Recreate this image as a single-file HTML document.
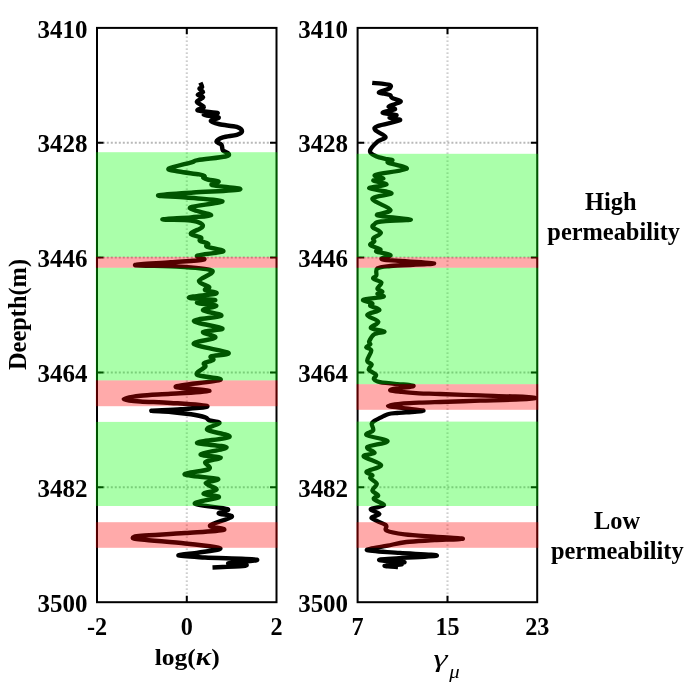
<!DOCTYPE html>
<html lang="en"><head><meta charset="utf-8"><title>Permeability log</title>
<style>
html,body{margin:0;padding:0;background:#fff;}
body{width:691px;height:693px;overflow:hidden;}
svg{display:block;}
text{font-family:"Liberation Serif","Times New Roman",serif;fill:#000;}
.b{font-weight:bold;font-size:24.4px;}
</style></head><body>
<svg width="691" height="693" viewBox="0 0 691 693">
<rect width="691" height="693" fill="#fff"/>
<path d="M186.8 28.40V601.15" stroke="#000" stroke-opacity="0.26" stroke-width="2.1" stroke-dasharray="1.3 2.7" fill="none"/>
<path d="M98.8 142.7H275.5" stroke="#000" stroke-opacity="0.28" stroke-width="2" stroke-dasharray="2 2" fill="none"/>
<path d="M98.8 257.6H275.5" stroke="#000" stroke-opacity="0.28" stroke-width="2" stroke-dasharray="2 2" fill="none"/>
<path d="M98.8 372.4H275.5" stroke="#000" stroke-opacity="0.28" stroke-width="2" stroke-dasharray="2 2" fill="none"/>
<path d="M98.8 487.3H275.5" stroke="#000" stroke-opacity="0.28" stroke-width="2" stroke-dasharray="2 2" fill="none"/>
<path d="M200.4 82.7C200.7 83.4 202.2 86.0 202.1 87.0C201.9 88.0 199.3 87.8 199.5 88.7C199.7 89.6 203.3 91.2 203.0 92.2C202.7 93.2 197.8 93.9 197.8 94.8C197.8 95.7 203.2 96.2 203.0 97.4C202.8 98.6 196.8 100.2 196.9 101.8C197.0 103.4 203.7 105.5 203.8 107.0C204.0 108.5 195.5 109.5 197.8 110.5C200.1 111.5 216.7 112.3 217.7 113.0C218.7 113.7 203.7 114.1 203.8 114.8C204.0 115.5 217.4 116.4 218.6 117.4C219.8 118.4 210.7 119.8 210.8 120.9C211.0 122.1 215.2 123.3 219.5 124.3C223.8 125.3 233.1 125.7 236.8 126.9C240.6 128.1 242.0 130.0 242.0 131.3C242.0 132.6 240.0 133.8 236.8 134.8C233.6 135.8 226.3 136.3 222.9 137.4C219.5 138.5 216.7 140.3 216.5 141.5C216.3 142.7 220.4 143.3 221.5 144.8C222.6 146.3 221.8 149.0 222.9 150.4C224.0 151.8 227.9 152.3 228.3 153.3C228.7 154.3 230.6 155.4 225.5 156.5C220.4 157.6 203.5 159.1 197.8 160.1C192.1 161.1 196.3 160.9 191.5 162.3C186.7 163.7 170.9 167.1 168.8 168.6C166.7 170.1 173.8 170.5 178.9 171.5C184.0 172.5 194.9 173.6 199.2 174.4C203.5 175.2 203.8 175.5 204.5 176.1C205.2 176.7 202.8 177.2 203.5 177.8C204.2 178.4 206.0 179.1 208.5 179.7C211.0 180.3 217.9 180.7 218.5 181.6C219.1 182.5 208.6 183.9 212.2 185.2C215.8 186.5 243.1 188.1 240.0 189.3C236.9 190.5 207.0 191.5 193.4 192.5C179.8 193.5 159.4 194.6 158.2 195.4C157.0 196.2 175.5 196.5 186.2 197.5C196.9 198.5 221.4 199.6 222.4 201.2C223.4 202.8 196.6 205.4 192.0 206.9C187.4 208.4 191.6 208.9 194.8 210.3C198.0 211.7 211.7 214.1 211.0 215.3C210.3 216.5 198.9 216.7 190.8 217.4C182.7 218.1 162.4 218.9 162.4 219.4C162.4 219.9 184.4 219.7 190.8 220.4C197.2 221.1 199.1 222.2 200.9 223.4C202.8 224.6 203.6 225.8 201.9 227.5C200.2 229.2 191.0 231.9 190.8 233.6C190.6 235.3 199.4 236.4 200.9 237.6C202.4 238.8 198.7 239.7 199.9 240.7C201.1 241.7 206.8 242.7 208.0 243.7C209.2 244.7 204.5 245.4 207.0 246.7C209.5 248.0 224.8 249.9 223.2 251.4C221.6 252.9 200.8 254.1 197.5 255.5C194.2 256.9 208.0 258.5 203.5 259.6C199.0 260.7 181.9 261.4 170.5 262.3C159.1 263.2 133.5 264.4 135.2 265.1C136.9 265.8 168.0 265.8 180.8 266.7C193.6 267.6 209.2 268.4 212.2 270.8C215.2 273.2 199.5 278.2 199.0 280.9C198.5 283.6 208.1 285.5 209.1 287.0C210.1 288.5 203.9 288.9 205.1 290.0C206.3 291.1 218.9 292.1 216.2 293.4C213.5 294.6 189.1 296.4 188.9 297.5C188.7 298.6 213.8 299.2 215.2 300.1C216.5 301.0 196.8 301.9 197.0 302.8C197.2 303.7 215.2 304.4 216.2 305.6C217.2 306.9 202.2 308.6 203.1 310.3C203.9 312.0 222.8 313.9 221.3 315.7C219.8 317.5 193.7 318.9 193.9 321.0C194.1 323.1 220.8 326.7 222.3 328.5C223.8 330.3 204.3 330.4 203.1 331.9C201.9 333.4 216.7 335.6 215.2 337.6C213.7 339.6 191.7 341.6 193.9 344.1C196.1 346.6 225.5 350.8 228.4 352.8C231.3 354.8 213.7 355.1 211.2 356.3C208.7 357.5 214.4 358.7 213.2 359.9C212.0 361.1 205.4 362.2 204.1 363.3C202.8 364.4 206.4 364.8 205.2 366.7C204.0 368.6 194.6 372.6 197.1 374.8C199.6 377.0 223.9 377.9 220.4 379.9C216.9 381.9 177.7 384.8 175.8 386.6C174.0 388.5 210.1 389.8 209.3 391.0C208.5 392.2 182.3 392.9 170.8 393.7C159.3 394.5 148.2 394.8 140.4 395.7C132.6 396.6 123.8 398.1 123.8 399.1C123.8 400.1 132.6 400.9 140.4 401.5C148.2 402.1 159.7 402.1 170.8 402.9C181.9 403.7 205.5 405.1 207.2 406.2C208.9 407.3 190.2 408.6 180.9 409.3C171.6 410.1 153.2 410.3 151.5 410.7C149.8 411.1 164.2 411.3 170.8 411.9C177.4 412.5 185.3 413.4 191.0 414.3C196.7 415.2 202.1 416.4 205.2 417.4C208.2 418.4 206.9 419.5 209.3 420.4C211.7 421.3 219.8 421.4 219.4 423.0C219.1 424.6 205.5 427.4 207.2 429.7C208.9 432.0 231.2 434.6 229.5 436.8C227.8 439.0 197.6 440.9 197.1 442.7C196.6 444.4 225.9 445.4 226.5 447.3C227.1 449.2 201.7 452.6 200.7 454.3C199.7 456.0 219.8 456.2 220.6 457.5C221.4 458.8 207.4 460.1 205.5 462.0C203.6 463.9 212.5 466.9 209.0 469.0C205.5 471.1 183.2 472.9 184.7 474.5C186.1 476.1 214.2 477.5 217.7 478.9C221.2 480.3 205.9 481.3 205.7 483.1C205.5 484.9 216.9 487.8 216.6 489.6C216.2 491.4 203.2 492.6 203.6 493.9C204.0 495.2 220.2 495.6 218.8 497.2C217.4 498.8 193.5 501.7 194.9 503.7C196.3 505.7 223.4 507.5 227.4 509.1C231.4 510.7 218.1 512.1 218.8 513.4C219.5 514.7 233.2 514.7 231.8 516.7C230.4 518.7 211.5 523.2 210.1 525.4C208.7 527.6 227.8 528.6 223.6 529.9C219.4 531.2 198.8 532.1 185.1 533.1C171.4 534.1 150.4 534.9 141.7 535.7C133.0 536.5 132.8 537.1 132.8 537.8C132.8 538.4 133.0 538.7 141.7 539.6C150.4 540.5 173.0 542.2 185.1 543.4C197.2 544.6 208.8 545.9 214.5 546.9C220.2 547.9 221.8 548.4 219.0 549.4C216.2 550.4 204.8 551.7 198.0 552.7C191.2 553.7 177.3 554.7 178.5 555.5C179.7 556.3 191.9 556.8 205.0 557.5C218.1 558.2 252.9 558.7 256.8 559.7C260.7 560.7 230.5 562.7 228.4 563.4C226.3 564.1 242.1 563.6 244.5 564.1C246.9 564.6 248.3 565.6 243.0 566.1C237.7 566.6 217.6 567.2 212.5 567.4" fill="none" stroke="#000" stroke-width="4.5" stroke-linejoin="round" stroke-linecap="butt"/>
<rect x="97.0" y="27.9" width="179.5" height="574.3" fill="none" stroke="#000" stroke-width="2"/>
<path d="M97.0 142.7h6.5M276.5 142.7h-6.5M97.0 257.6h6.5M276.5 257.6h-6.5M97.0 372.4h6.5M276.5 372.4h-6.5M97.0 487.3h6.5M276.5 487.3h-6.5M186.8 27.85v6.5M186.8 602.15v-6.5" stroke="#000" stroke-width="2" fill="none"/>
<rect x="95.8" y="152.2" width="181.9" height="104.7" fill="#00ff00" fill-opacity="0.335"/>
<rect x="95.8" y="256.9" width="181.9" height="10.9" fill="#ff0000" fill-opacity="0.335"/>
<rect x="95.8" y="267.8" width="181.9" height="112.6" fill="#00ff00" fill-opacity="0.335"/>
<rect x="95.8" y="380.4" width="181.9" height="25.8" fill="#ff0000" fill-opacity="0.335"/>
<rect x="95.8" y="421.9" width="181.9" height="84.1" fill="#00ff00" fill-opacity="0.335"/>
<rect x="95.8" y="522.2" width="181.9" height="25.6" fill="#ff0000" fill-opacity="0.335"/>
<text class="b" style="font-size:25.0px" transform="translate(87.5 37.5) scale(1 1.03)" text-anchor="end">3410</text>
<text class="b" style="font-size:25.0px" transform="translate(87.5 152.4) scale(1 1.03)" text-anchor="end">3428</text>
<text class="b" style="font-size:25.0px" transform="translate(87.5 267.3) scale(1 1.03)" text-anchor="end">3446</text>
<text class="b" style="font-size:25.0px" transform="translate(87.5 382.1) scale(1 1.03)" text-anchor="end">3464</text>
<text class="b" style="font-size:25.0px" transform="translate(87.5 497.0) scale(1 1.03)" text-anchor="end">3482</text>
<text class="b" style="font-size:25.0px" transform="translate(87.5 611.9) scale(1 1.03)" text-anchor="end">3500</text>
<text class="b" style="font-size:24.2px" transform="translate(97.0 634.8) scale(1 1.05)" text-anchor="middle">-2</text>
<text class="b" style="font-size:24.2px" transform="translate(186.8 634.8) scale(1 1.05)" text-anchor="middle">0</text>
<text class="b" style="font-size:24.2px" transform="translate(276.5 634.8) scale(1 1.05)" text-anchor="middle">2</text>
<path d="M447.5 28.40V601.15" stroke="#000" stroke-opacity="0.26" stroke-width="2.1" stroke-dasharray="1.3 2.7" fill="none"/>
<path d="M359.4 142.7H536.3" stroke="#000" stroke-opacity="0.28" stroke-width="2" stroke-dasharray="2 2" fill="none"/>
<path d="M359.4 257.6H536.3" stroke="#000" stroke-opacity="0.28" stroke-width="2" stroke-dasharray="2 2" fill="none"/>
<path d="M359.4 372.4H536.3" stroke="#000" stroke-opacity="0.28" stroke-width="2" stroke-dasharray="2 2" fill="none"/>
<path d="M359.4 487.3H536.3" stroke="#000" stroke-opacity="0.28" stroke-width="2" stroke-dasharray="2 2" fill="none"/>
<path d="M372.2 82.8C373.8 83.0 378.7 83.3 381.7 83.7C384.7 84.1 388.8 84.5 390.2 85.2C391.6 85.9 390.7 87.2 390.0 88.0C389.3 88.8 388.0 89.1 386.1 89.8C384.2 90.5 379.2 91.8 378.9 92.4C378.6 93.1 382.4 93.2 384.3 93.7C386.2 94.2 388.9 94.5 390.2 95.2C391.5 95.9 390.2 96.8 392.0 97.8C393.8 98.8 400.2 100.2 400.7 101.2C401.2 102.2 396.8 103.2 394.8 104.1C392.8 105.0 388.5 105.8 388.5 106.7C388.5 107.6 396.0 108.3 395.0 109.3C394.0 110.3 382.4 111.8 382.6 112.8C382.9 113.8 395.3 114.3 396.5 115.1C397.7 115.9 389.0 116.8 389.6 117.7C390.2 118.6 402.0 118.9 400.0 120.3C398.0 121.7 381.9 124.5 377.8 126.1C373.7 127.7 373.9 128.3 375.2 130.1C376.5 131.9 385.2 135.2 385.6 137.1C386.0 139.0 380.4 139.1 377.8 141.4C375.2 143.7 370.3 148.5 370.0 151.0C369.7 153.5 373.1 154.8 376.0 156.2C378.9 157.6 384.6 158.5 387.3 159.2C390.1 159.9 392.4 159.6 392.5 160.2C392.6 160.8 385.6 161.3 388.0 162.7C390.4 164.1 408.8 166.8 406.7 168.8C404.6 170.8 379.2 173.3 375.3 174.9C371.4 176.5 383.7 177.6 383.4 178.6C383.1 179.6 372.8 179.6 373.3 180.6C373.8 181.6 387.2 183.3 386.5 184.6C385.8 185.9 368.4 186.9 369.2 188.3C370.0 189.7 391.0 191.4 391.5 193.2C392.0 194.9 372.5 196.0 372.3 198.8C372.1 201.6 389.7 207.2 390.5 210.0C391.3 212.8 373.9 213.8 377.3 215.4C380.7 217.0 410.2 218.5 410.8 219.5C411.4 220.5 387.1 220.7 381.0 221.5C374.9 222.3 375.9 223.2 374.5 224.2C373.1 225.2 371.7 226.0 372.8 227.4C373.9 228.8 380.8 230.9 380.9 232.7C381.0 234.5 374.4 236.8 373.3 238.3C372.2 239.7 374.8 240.3 374.3 241.4C373.8 242.5 369.3 243.7 370.3 245.0C371.3 246.3 379.4 248.4 380.4 249.5C381.4 250.6 374.6 250.6 376.3 251.5C378.0 252.4 389.3 253.8 390.5 255.1C391.7 256.4 376.1 258.2 383.4 259.6C390.7 261.0 432.9 262.2 434.1 263.3C435.3 264.4 399.9 265.1 390.5 266.0C381.1 266.9 379.8 266.8 377.4 268.4C375.0 270.0 377.0 273.8 376.3 275.5C375.6 277.2 372.5 277.4 373.3 278.6C374.1 279.8 380.7 280.9 381.4 282.6C382.1 284.3 377.2 287.2 377.4 288.7C377.6 290.2 382.4 290.8 382.4 291.7C382.4 292.6 377.2 292.9 377.4 293.8C377.6 294.7 385.8 295.8 383.4 296.8C381.0 297.8 365.0 298.7 363.2 299.8C361.4 300.9 371.1 302.3 372.3 303.3C373.5 304.3 369.1 304.8 370.3 305.9C371.5 307.0 379.9 308.5 379.4 310.0C378.9 311.5 367.4 313.0 367.2 315.0C367.0 317.0 377.7 319.6 378.3 321.8C378.9 324.0 369.9 326.4 370.9 328.0C371.9 329.6 383.8 330.5 384.4 331.6C385.0 332.6 376.8 332.7 374.3 334.3C371.8 335.9 369.9 339.7 369.2 341.4C368.5 343.1 370.8 343.4 370.3 344.4C369.8 345.4 366.0 346.4 366.2 347.4C366.4 348.4 371.1 348.3 371.3 350.5C371.5 352.7 367.1 358.3 367.2 360.6C367.3 362.9 371.4 363.0 371.7 364.5C372.0 366.0 368.1 367.9 368.8 369.6C369.5 371.3 375.1 373.1 376.0 374.7C376.9 376.3 373.2 377.8 373.9 379.0C374.6 380.2 376.1 381.4 380.0 382.2C383.9 383.0 392.6 383.7 397.4 384.1C402.2 384.5 406.0 384.4 408.7 384.8C411.4 385.2 414.5 385.7 413.3 386.2C412.1 386.7 405.0 387.4 401.7 387.9C398.4 388.3 395.4 388.5 393.5 388.9C391.6 389.3 389.2 390.0 390.6 390.5C392.0 391.0 396.9 391.4 401.7 391.9C406.4 392.4 412.7 392.9 419.1 393.3C425.5 393.7 429.9 393.6 440.0 394.0C450.1 394.4 467.5 395.0 480.0 395.4C492.5 395.8 505.8 396.1 515.0 396.5C524.2 396.9 535.5 397.5 535.5 398.0C535.5 398.5 524.2 399.1 515.0 399.6C505.8 400.0 492.5 400.3 480.0 400.7C467.5 401.1 450.1 401.7 440.0 402.0C429.9 402.3 425.5 402.4 419.1 402.7C412.7 403.0 406.9 403.1 401.7 403.6C396.5 404.1 388.0 405.1 388.0 405.8C388.0 406.5 395.9 407.1 401.7 407.9C407.5 408.7 420.8 409.8 423.0 410.4C425.2 411.0 419.1 411.4 414.8 411.8C410.5 412.2 401.8 412.6 397.4 413.0C393.0 413.4 390.9 413.5 388.7 414.0C386.5 414.5 385.8 415.2 384.3 415.8C382.9 416.4 381.6 417.1 380.0 417.9C378.4 418.7 376.4 419.5 375.0 420.5C373.6 421.5 372.0 422.1 371.7 423.7C371.4 425.3 374.0 428.5 373.2 430.4C372.4 432.3 364.2 433.3 366.6 435.1C369.0 436.9 387.5 439.2 387.6 441.2C387.7 443.2 369.6 445.1 367.4 447.0C365.2 448.9 375.2 451.2 374.6 452.8C374.0 454.4 362.6 454.3 363.7 456.4C364.8 458.4 380.6 462.6 381.1 465.1C381.6 467.6 368.1 469.9 366.6 471.6C365.2 473.3 371.8 474.1 372.4 475.2C373.0 476.3 369.6 476.6 370.3 478.1C371.0 479.5 376.5 481.8 376.8 483.9C377.1 485.9 372.2 488.5 372.4 490.4C372.6 492.3 377.9 494.1 378.2 495.5C378.4 496.9 372.9 497.5 373.9 499.1C374.9 500.7 384.5 503.5 384.0 505.2C383.5 506.9 371.6 507.6 370.8 509.1C370.0 510.6 379.3 512.5 379.4 514.0C379.5 515.5 370.6 516.4 371.6 518.2C372.7 520.0 383.2 522.9 385.7 525.0C388.2 527.1 383.5 529.1 386.7 530.7C389.9 532.3 396.6 533.4 404.6 534.4C412.6 535.4 425.0 536.0 434.7 536.7C444.4 537.4 462.9 538.1 462.9 538.7C462.9 539.3 444.1 539.7 434.7 540.2C425.3 540.8 414.2 541.1 406.4 542.0C398.5 542.9 394.2 544.3 387.6 545.7C381.0 547.1 364.9 549.0 367.0 550.2C369.1 551.4 388.4 552.0 400.0 552.9C411.6 553.8 440.0 554.6 436.6 555.7C433.2 556.8 385.2 558.5 379.8 559.6C374.4 560.7 403.2 561.4 404.5 562.1C405.8 562.8 388.1 563.6 387.6 564.0C387.1 564.4 402.2 564.2 401.7 564.5C401.2 564.8 385.1 565.4 384.5 565.8C383.9 566.2 395.8 566.9 398.0 567.1" fill="none" stroke="#000" stroke-width="4.3" stroke-linejoin="round" stroke-linecap="butt"/>
<rect x="357.6" y="27.9" width="179.6" height="574.3" fill="none" stroke="#000" stroke-width="2"/>
<path d="M357.6 142.7h6.5M537.3 142.7h-6.5M357.6 257.6h6.5M537.3 257.6h-6.5M357.6 372.4h6.5M537.3 372.4h-6.5M357.6 487.3h6.5M537.3 487.3h-6.5M447.5 27.85v6.5M447.5 602.15v-6.5" stroke="#000" stroke-width="2" fill="none"/>
<rect x="356.4" y="153.8" width="182.0" height="103.4" fill="#00ff00" fill-opacity="0.335"/>
<rect x="356.4" y="257.2" width="182.0" height="10.6" fill="#ff0000" fill-opacity="0.335"/>
<rect x="356.4" y="267.8" width="182.0" height="116.4" fill="#00ff00" fill-opacity="0.335"/>
<rect x="356.4" y="384.2" width="182.0" height="25.6" fill="#ff0000" fill-opacity="0.335"/>
<rect x="356.4" y="421.6" width="182.0" height="84.4" fill="#00ff00" fill-opacity="0.335"/>
<rect x="356.4" y="522.2" width="182.0" height="25.6" fill="#ff0000" fill-opacity="0.335"/>
<text class="b" style="font-size:25.0px" transform="translate(348.1 37.5) scale(1 1.03)" text-anchor="end">3410</text>
<text class="b" style="font-size:25.0px" transform="translate(348.1 152.4) scale(1 1.03)" text-anchor="end">3428</text>
<text class="b" style="font-size:25.0px" transform="translate(348.1 267.3) scale(1 1.03)" text-anchor="end">3446</text>
<text class="b" style="font-size:25.0px" transform="translate(348.1 382.1) scale(1 1.03)" text-anchor="end">3464</text>
<text class="b" style="font-size:25.0px" transform="translate(348.1 497.0) scale(1 1.03)" text-anchor="end">3482</text>
<text class="b" style="font-size:25.0px" transform="translate(348.1 611.9) scale(1 1.03)" text-anchor="end">3500</text>
<text class="b" style="font-size:24.2px" transform="translate(357.6 634.8) scale(1 1.05)" text-anchor="middle">7</text>
<text class="b" style="font-size:24.2px" transform="translate(447.5 634.8) scale(1 1.05)" text-anchor="middle">15</text>
<text class="b" style="font-size:24.2px" transform="translate(537.3 634.8) scale(1 1.05)" text-anchor="middle">23</text>
<text class="b" transform="translate(26 314.5) rotate(-90) scale(1 1.0)" text-anchor="middle">Deepth(m)</text>
<text class="b" style="font-size:25.6px" transform="translate(187.2 665.0) scale(1 0.9)" text-anchor="middle">log(<tspan font-style="italic" style="font-size:29px">κ</tspan>)</text>
<text transform="translate(433.3 666.5) scale(1.45 0.97)" font-size="25" font-style="italic">γ</text>
<text transform="translate(449.3 677.8) scale(1.12 1)" font-size="18.5" font-style="italic">μ</text>
<text class="b" transform="translate(610.8 209.6) scale(1 1.03)" text-anchor="middle">High</text>
<text class="b" transform="translate(613.7 240.2) scale(1 1.03)" text-anchor="middle">permeability</text>
<text class="b" transform="translate(617.0 528.5) scale(1 1.03)" text-anchor="middle">Low</text>
<text class="b" transform="translate(617.3 559.1) scale(1 1.03)" text-anchor="middle">permeability</text>
</svg></body></html>
